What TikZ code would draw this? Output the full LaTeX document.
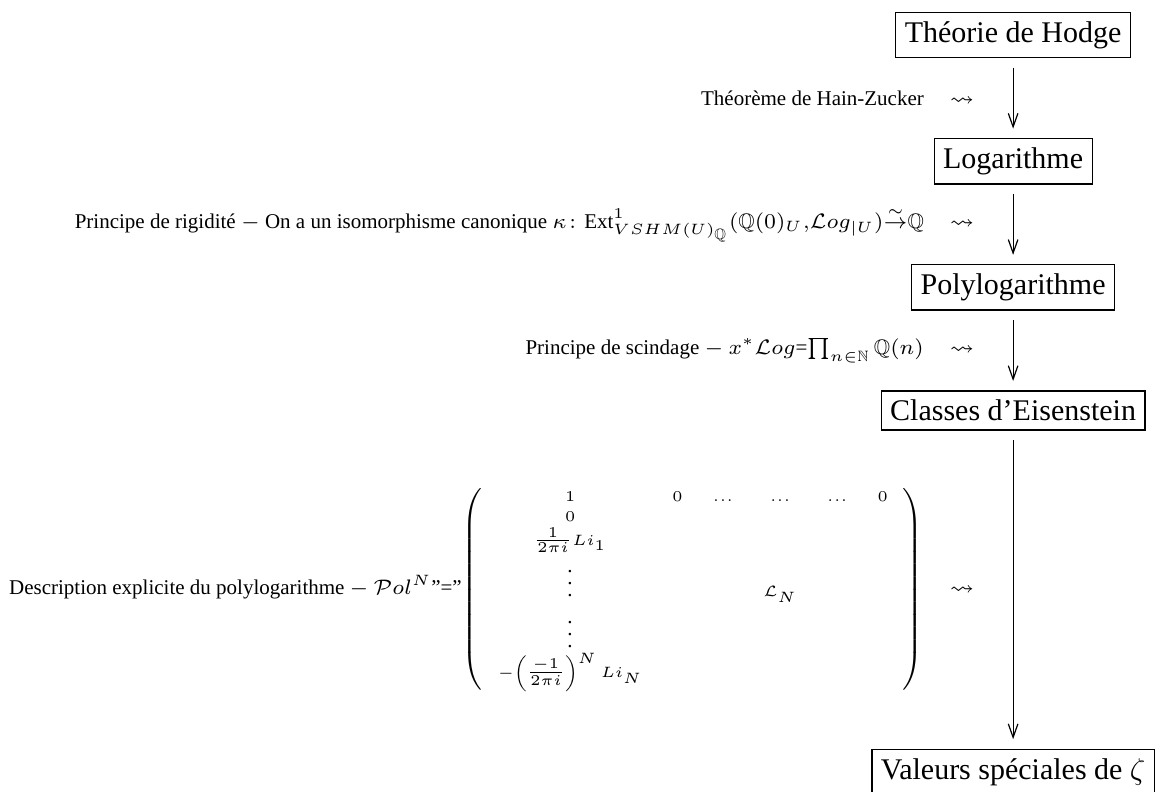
\documentclass[tikz,border=0pt]{standalone}
\usepackage{amsmath,amssymb,array}
\usepackage{fontspec}
\setmainfont{Liberation Serif}
\usetikzlibrary{arrows.meta,positioning}

\begin{document}
\begin{tikzpicture}[
    box/.style={draw, inner sep=3pt, outer sep=3.33pt},
    arr/.style={-{Straight Barb[length=4.5pt,width=3.2pt]}},
    lbl/.style={left=9.5pt, font=\scriptsize},
    node distance=20.3pt
  ]
    \useasboundingbox (0,0) rectangle (385.33pt,-263.67pt);

    \node[box] (hodge) at (337.7pt,-11.7pt) {Théorie de Hodge};
    \node[box, below=of hodge] (log) {Logarithme};
    \node[box, below=of log] (polylog) {Polylogarithme};
    \node[box, below=of polylog] (eisen) {Classes d'Eisenstein};
    \node[box, below=99.7pt of eisen] (zeta) {Valeurs spéciales de $\zeta$};

    \draw[arr] (hodge) -- node[lbl] {Théorème de Hain-Zucker \quad $\leadsto$} (log);
    \draw[arr] (log) -- node[lbl] {Principe de rigidité $-$ On a un isomorphisme canonique
      $\kappa\colon \mathrm{Ext}^1_{VSHM(U)_{\mathbb{Q}}}(\mathbb{Q}(0)_U{,}\mathcal{L}og_{|U}){\stackrel{\sim}{\to}}\mathbb{Q}$
      \quad $\leadsto$} (polylog);
    \draw[arr] (polylog) -- node[lbl] {Principe de scindage $-$ $x^*\mathcal{L}og$=$\prod_{n\in\mathbb{N}}\mathbb{Q}(n)$
      \quad $\leadsto$} (eisen);
    \draw[arr] (eisen) -- node[lbl] {Description explicite du polylogarithme $-$ $\mathcal{P}ol^N$''=''$\left(
      \renewcommand{\arraystretch}{0.85}
      \begin{array}{*{6}{>{\scriptstyle}c}}
        1 & 0 & \dots & \dots & \dots & 0\\
        0 & & & & & \\
        \tfrac{1}{2\pi i}Li_1 & & & & & \\
        \vdots & & & \mathcal{L}_N & & \\
        \vdots & & & & & \\
        -\left(\tfrac{-1}{2\pi i}\right)^N\, Li_N & & & & &
      \end{array}\right)$
      \quad $\leadsto$} (zeta);
\end{tikzpicture}
\end{document}
